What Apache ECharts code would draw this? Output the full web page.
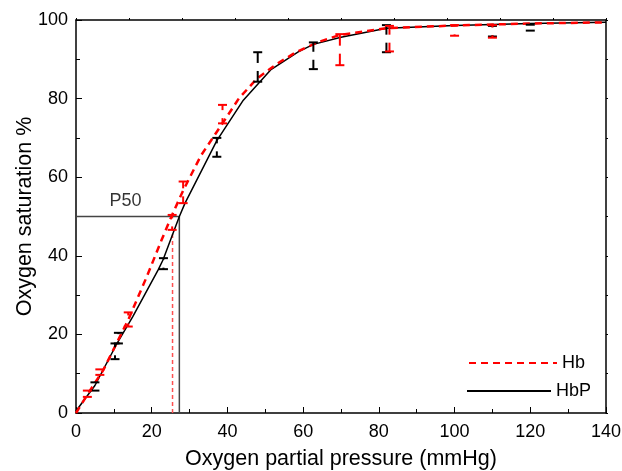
<!DOCTYPE html>
<html>
<head>
<meta charset="utf-8">
<script src="https://cdn.jsdelivr.net/npm/echarts@6/dist/echarts.min.js"></script>
<style>html,body{margin:0;padding:0;background:#fff}#c{width:622px;height:471px}</style>
</head>
<body>
<div id="c"></div>
<script>
// HbP fitted curve
const hbpX = [0, 5, 11, 15, 21.7, 23, 27.3, 28.8, 37.2, 44.2, 51.4, 58.7, 62.7, 70, 82, 100, 120, 140];
const hbpY = [0.5, 7, 18, 24.5, 36.4, 39, 50, 53.4, 69.3, 79.6, 87.3, 91.9, 93.8, 95.6, 97.9, 98.6, 99.1, 99.4];
// Hb fitted curve
const hbX = [0, 3.2, 7.2, 13.8, 18.7, 22.6, 25.3, 28.3, 33, 38.9, 43, 47.7, 53, 58.3, 64, 69.7, 82, 100, 120, 140];
const hbY = [0, 5, 10.9, 23.7, 34.7, 44, 50.2, 56.6, 65.5, 74, 80, 85, 88.8, 91.9, 94.4, 96.2, 97.9, 98.6, 99.1, 99.4];
// Error bars: x, low, high
const hbpErrX = [5, 10.3, 11.2, 23.1, 37.2, 48, 62.7, 82, 110, 120];
const hbpErrLow = [5.7, 13.7, 17.7, 36.6, 65.2, 84.3, 87.5, 91.8, 95.8, 97.3];
const hbpErrHigh = [7.8, 17.7, 20.4, 39.4, 70.0, 91.8, 94.3, 98.7, 98.5, 98.8];
const hbErrX = [3, 6.3, 13.8, 25.4, 28.3, 38.7, 69.7, 82.8, 100, 110];
const hbErrLow = [4.1, 9.7, 22.0, 46.6, 53.4, 73.7, 88.5, 92.0, 96.0, 95.5];
const hbErrHigh = [5.7, 11.1, 25.6, 50.4, 58.9, 78.4, 96.4, 98.5, 98.7, 98.7];
// P50 markers
const p50HbP = 27.3;
const p50Hb = 25.5;
const p50Value = 50;
const p50HbTop = 47;

const zip2 = (a, b) => a.map((v, i) => [v, b[i]]);
const zip3 = (a, b, c) => a.map((v, i) => [v, b[i], c[i]]);

function errRender(color) {
  return function (params, api) {
    const x = api.value(0), lo = api.value(1), hi = api.value(2);
    const pLo = api.coord([x, lo]), pHi = api.coord([x, hi]);
    const mid = (pLo[1] + pHi[1]) / 2, gap = 4, w = 4.5;
    const st = { stroke: color, lineWidth: 2 };
    const ch = [
      { type: 'line', shape: { x1: pLo[0] - w, y1: pLo[1], x2: pLo[0] + w, y2: pLo[1] }, style: st },
      { type: 'line', shape: { x1: pHi[0] - w, y1: pHi[1], x2: pHi[0] + w, y2: pHi[1] }, style: st }
    ];
    if (mid - gap > pHi[1]) ch.push({ type: 'line', shape: { x1: pHi[0], y1: pHi[1], x2: pHi[0], y2: mid - gap }, style: st });
    if (mid + gap < pLo[1]) ch.push({ type: 'line', shape: { x1: pLo[0], y1: mid + gap, x2: pLo[0], y2: pLo[1] }, style: st });
    return { type: 'group', children: ch };
  };
}

const font = 'Liberation Sans, Arial, Helvetica, sans-serif';
const legendText = { fontSize: 18, color: '#000', fontFamily: font, padding: 0 };
const legendItemStyle = { opacity: 0, color: 'rgba(0,0,0,0)', borderWidth: 0 };
const chart = echarts.init(document.getElementById('c'), null, { renderer: 'canvas' });
chart.setOption({
  animation: false,
  backgroundColor: '#fff',
  textStyle: { fontFamily: font },
  grid: { left: 76, right: 16, top: 20, bottom: 58, containLabel: false, outerBoundsMode: 'none' },
  legend: [{
    orient: 'vertical', left: 468, top: 354, padding: 0, itemWidth: 88, itemHeight: 14,
    itemStyle: legendItemStyle, textStyle: legendText, data: ['Hb']
  }, {
    orient: 'vertical', left: 466, top: 382, padding: 0, itemWidth: 84, itemHeight: 14,
    itemStyle: legendItemStyle, textStyle: legendText, data: ['HbP']
  }],
  xAxis: [{
    type: 'value', min: 0, max: 140, interval: 20, position: 'bottom',
    name: 'Oxygen partial pressure (mmHg)', nameLocation: 'middle', nameGap: 35, nameMoveOverlap: false,
    nameTextStyle: { fontSize: 21.5, color: '#000', fontFamily: font },
    axisLine: { show: true, onZero: false, lineStyle: { color: '#000', width: 1.5 } },
    axisTick: { show: true, inside: true, length: 6, lineStyle: { color: '#000', width: 1 } },
    minorTick: { show: true, splitNumber: 2, length: 4, lineStyle: { color: '#000', width: 1 } },
    axisLabel: { fontSize: 18, color: '#000', margin: 10, fontFamily: font },
    splitLine: { show: false }
  }, {
    type: 'value', min: 0, max: 140, interval: 14, position: 'top',
    axisLine: { show: true, onZero: false, lineStyle: { color: '#000', width: 1.5 } },
    axisTick: { show: true, inside: false, length: 2, lineStyle: { color: '#000', width: 1 } },
    axisLabel: { show: false }, splitLine: { show: false }
  }],
  yAxis: [{
    type: 'value', min: 0, max: 100, interval: 20, position: 'left',
    name: 'Oxygen saturation %', nameLocation: 'middle', nameGap: 40, nameRotate: 90, nameMoveOverlap: false,
    nameTextStyle: { fontSize: 21.5, color: '#000', fontFamily: font },
    axisLine: { show: true, onZero: false, lineStyle: { color: '#000', width: 1.5 } },
    axisTick: { show: true, inside: true, length: 6, lineStyle: { color: '#000', width: 1 } },
    minorTick: { show: true, splitNumber: 2, length: 4, lineStyle: { color: '#000', width: 1 } },
    axisLabel: { fontSize: 18, color: '#000', margin: 8, fontFamily: font },
    splitLine: { show: false }
  }, {
    type: 'value', min: 0, max: 100, interval: 10, position: 'right',
    axisLine: { show: true, onZero: false, lineStyle: { color: '#000', width: 1.5 } },
    axisTick: { show: true, inside: false, length: 2, lineStyle: { color: '#000', width: 1 } },
    axisLabel: { show: false }, splitLine: { show: false }
  }],
  series: [
    {
      name: 'P50line', type: 'line', symbol: 'none', silent: true,
      data: [[0, p50Value], [p50HbP, p50Value], [p50HbP, 0]],
      lineStyle: { color: '#444', width: 1.5 }, z: 1
    },
    {
      name: 'P50Hb', type: 'line', symbol: 'none', silent: true,
      data: [[p50Hb, 0], [p50Hb, p50HbTop]],
      lineStyle: { color: '#ff5050', width: 1.5, type: [4, 3] }, z: 1
    },
    {
      name: 'P50label', type: 'scatter', symbolSize: 0, silent: true,
      data: [[13.1, 54]],
      label: { show: true, formatter: 'P50', position: 'inside', fontSize: 18, color: '#000',
               textBorderWidth: 0, fontFamily: font }
    },
    {
      name: 'HbP', type: 'line', symbol: 'none', showSymbol: false,
      data: zip2(hbpX, hbpY),
      itemStyle: { color: '#000' },
      lineStyle: { color: '#000', width: 1.5 }, z: 3
    },
    {
      name: 'Hb', type: 'line', symbol: 'none', showSymbol: false,
      data: zip2(hbX, hbY),
      itemStyle: { color: '#ff0000' },
      lineStyle: { color: '#ff0000', width: 2.5, type: [7, 5] }, z: 4
    },
    {
      name: 'HbPerr', type: 'custom', renderItem: errRender('#000'),
      encode: { x: 0, y: [1, 2] }, data: zip3(hbpErrX, hbpErrLow, hbpErrHigh), z: 5
    },
    {
      name: 'Hberr', type: 'custom', renderItem: errRender('#ff0000'),
      encode: { x: 0, y: [1, 2] }, data: zip3(hbErrX, hbErrLow, hbErrHigh), z: 6
    }
  ]
});
</script>
</body>
</html>
